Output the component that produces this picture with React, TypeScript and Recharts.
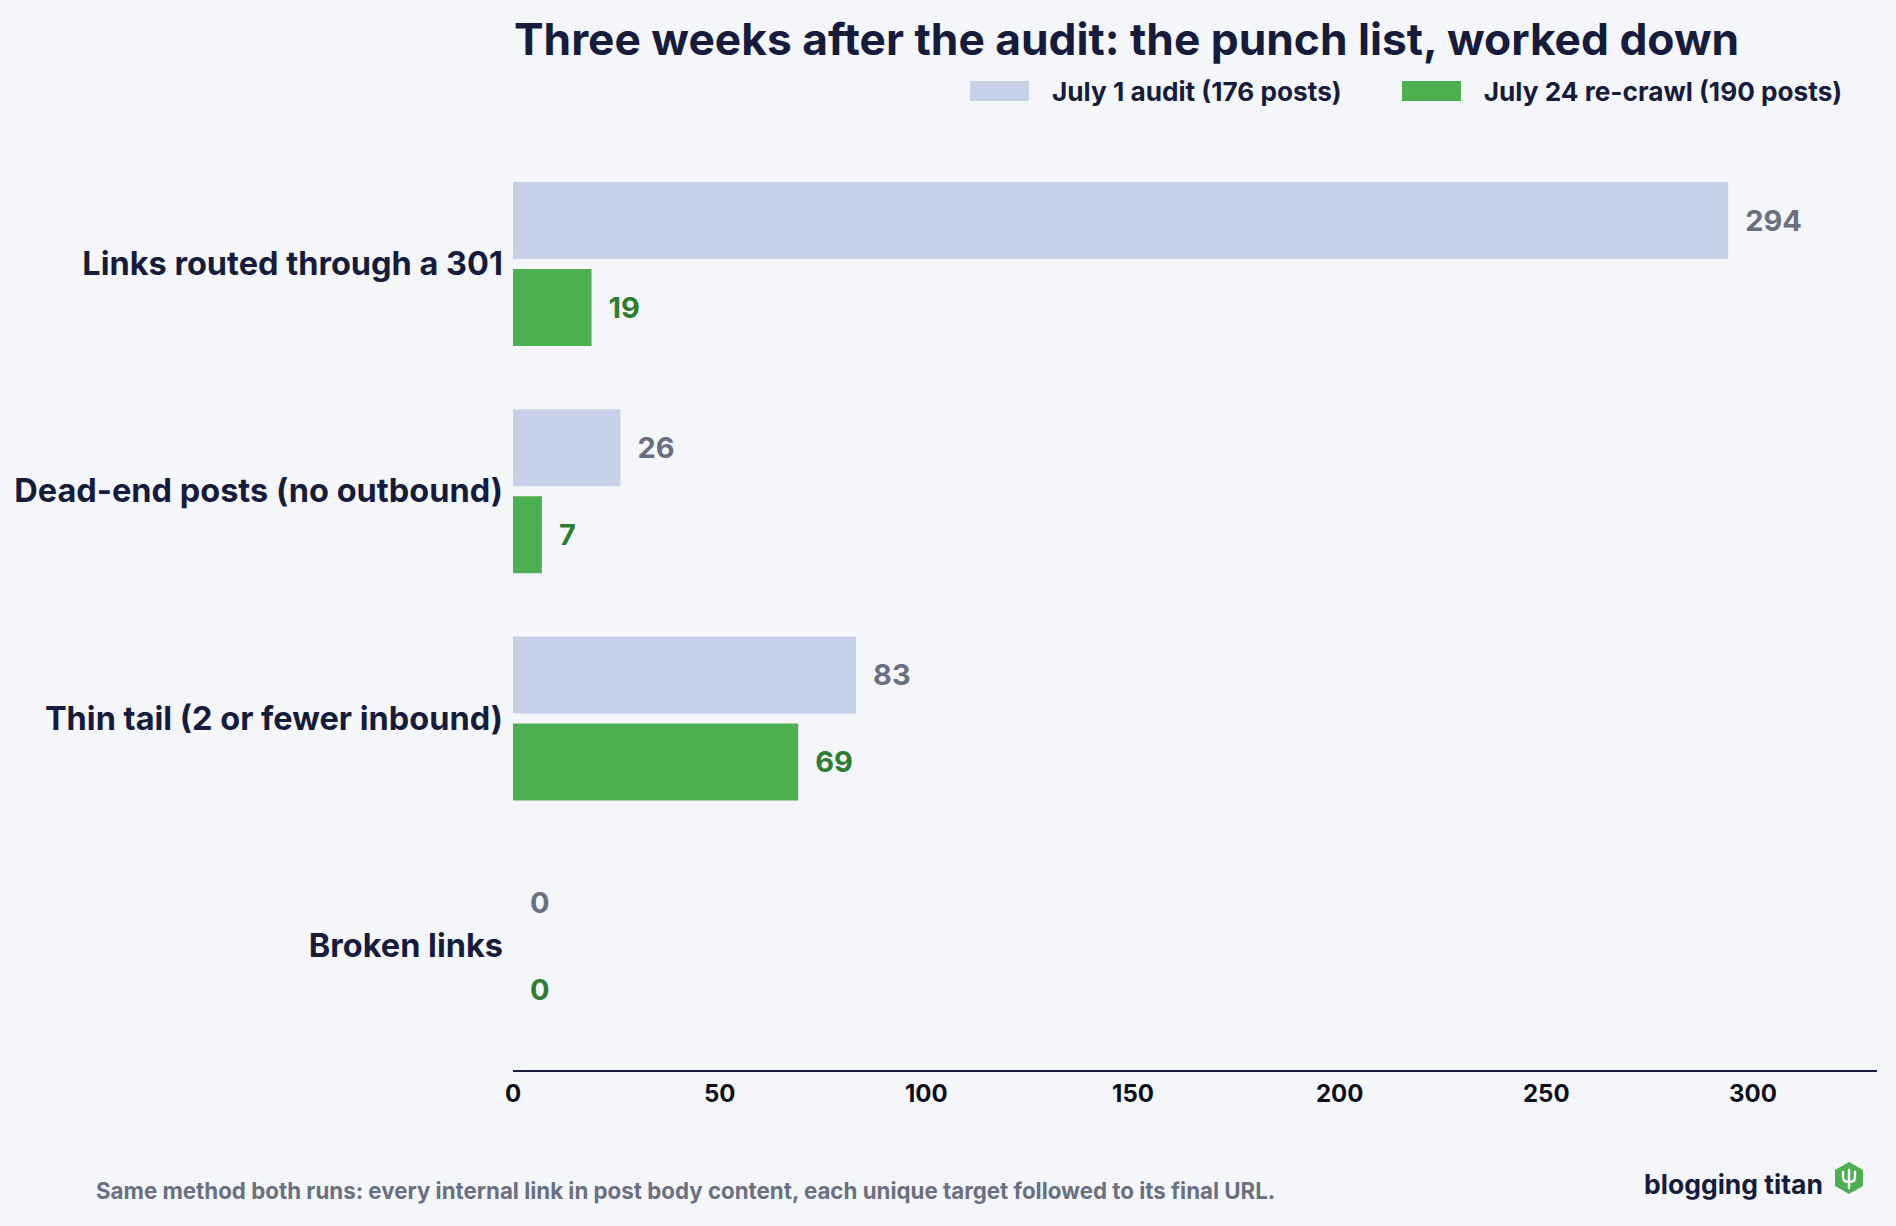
import React from "react";
import { BarChart, Bar, XAxis, YAxis, LabelList } from "recharts";

const categories = [
  "Links routed through a 301",
  "Dead-end posts (no outbound)",
  "Thin tail (2 or fewer inbound)",
  "Broken links",
];
const auditValues = [294, 26, 83, 0];
const recrawlValues = [19, 7, 69, 0];
const xTicks = [0, 50, 100, 150, 200, 250, 300];
const seriesNames = ["July 1 audit (176 posts)", "July 24 re-crawl (190 posts)"];
const seriesColors = ["#c7d2e8", "#4caf50"];
const labelColors = ["#6b7080", "#2e7d32"];
const titleText = "Three weeks after the audit: the punch list, worked down";
const footerText =
  "Same method both runs: every internal link in post body content, each unique target followed to its final URL.";

const data = categories.map((c, i) => ({
  category: c,
  audit: auditValues[i],
  recrawl: recrawlValues[i],
}));

const FONT = "Inter, 'Noto Sans', sans-serif";
const NAVY = "#161c3a";
const BG = "#f4f6fa";

const tinyForZero = (value: any) => (Number(value) === 0 ? 0.01 : 0);

export default function App() {
  return (
    <div
      style={{
        position: "absolute",
        left: 0,
        top: 0,
        width: 1896,
        height: 1226,
        background: BG,
        fontFamily: FONT,
        overflow: "hidden",
      }}
    >
      <div
        style={{
          position: "absolute",
          left: 514,
          top: 13,
          fontSize: 44.3,
          fontWeight: 700,
          color: NAVY,
          lineHeight: 1.2,
          whiteSpace: "nowrap",
        }}
      >
        {titleText}
      </div>
      {/* legend */}
      <div
        style={{
          position: "absolute",
          left: 970,
          top: 76,
          display: "flex",
          alignItems: "center",
          height: 30,
        }}
      >
        {seriesNames.map((n, i) => (
          <div key={n} style={{ display: "flex", alignItems: "center", marginRight: i === 0 ? 60 : 0 }}>
            <div style={{ width: 59, height: 20, background: seriesColors[i], marginRight: 23 }} />
            <span style={{ fontSize: 26.2, fontWeight: 700, color: NAVY, whiteSpace: "nowrap" }}>{n}</span>
          </div>
        ))}
      </div>
      <BarChart
        width={1896}
        height={1226}
        data={data}
        layout="vertical"
        margin={{ top: 150, right: 19, bottom: 95, left: 0 }}
        barSize={77}
        barGap={10}
        style={{ position: "absolute", left: 0, top: 0 }}
      >
        <XAxis
          type="number"
          domain={[0, 330]}
          ticks={xTicks}
          allowDataOverflow
          height={60}
          tickLine={false}
          tickSize={0}
          tickMargin={14}
          axisLine={{ stroke: NAVY, strokeWidth: 2 }}
          tick={{ fill: "#0d0f1a", fontSize: 24, fontWeight: 700, fontFamily: FONT }}
        />
        <YAxis
          type="category"
          dataKey="category"
          width={513}
          axisLine={false}
          tickLine={false}
          tickSize={0}
          tickMargin={10}
          padding={{ top: 0, bottom: 12 }}
          tick={{ fill: NAVY, fontSize: 32.5, fontWeight: 700, fontFamily: FONT }}
        />
        <Bar
          dataKey="audit"
          name={seriesNames[0]}
          fill={seriesColors[0]}
          minPointSize={tinyForZero}
          isAnimationActive={false}
        >
          <LabelList
            dataKey="audit"
            position="right"
            offset={17}
            fill={labelColors[0]}
            fontSize={29}
            fontWeight={700}
            fontFamily={FONT}
          />
        </Bar>
        <Bar
          dataKey="recrawl"
          name={seriesNames[1]}
          fill={seriesColors[1]}
          minPointSize={tinyForZero}
          isAnimationActive={false}
        >
          <LabelList
            dataKey="recrawl"
            position="right"
            offset={17}
            fill={labelColors[1]}
            fontSize={29}
            fontWeight={700}
            fontFamily={FONT}
          />
        </Bar>
      </BarChart>
      <div
        style={{
          position: "absolute",
          left: 96,
          top: 1178,
          fontSize: 22.3,
          fontWeight: 700,
          color: "#6b7080",
          whiteSpace: "nowrap",
          lineHeight: 1.2,
        }}
      >
        {footerText}
      </div>
      <div
        style={{
          position: "absolute",
          left: 1644,
          top: 1169,
          display: "flex",
          alignItems: "center",
        }}
      >
        <span style={{ fontSize: 26.5, fontWeight: 700, color: NAVY, lineHeight: 1.2 }}>blogging titan</span>
        <svg width={30} height={34} viewBox="0 0 30 34" style={{ marginLeft: 11, marginTop: -14 }}>
          <polygon points="15,1 29,9 29,25 15,33 1,25 1,9" fill="#4caf50" />
          <path
            d="M15 9 V27 M9 11 V16 Q9 21 15 21 Q21 21 21 16 V11"
            stroke="#ffffff"
            strokeWidth={2.4}
            fill="none"
            strokeLinecap="round"
          />
        </svg>
      </div>
    </div>
  );
}
